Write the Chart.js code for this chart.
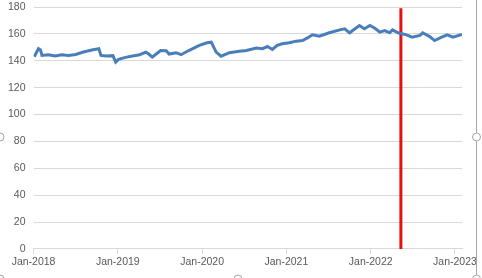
<!DOCTYPE html>
<html lang="en">
<head>
  <meta charset="UTF-8">
  <title>Price series</title>
  <script src="https://cdn.jsdelivr.net/npm/chart.js"></script>
  <style>
    html, body { margin: 0; padding: 0; background: #fff; overflow: hidden; }
    canvas { display: block; }
  </style>
</head>
<body>
  <canvas id="chart" width="482" height="278"></canvas>
  <script>
    // months since Jan-2018 and the series value
    const months = [0.1, 0.4, 0.7, 1.0, 1.2, 2.1, 3.1, 4.0, 5.0, 6.0, 7.1, 8.3, 9.3, 9.6, 10.4, 11.3, 11.7,
      12.1, 13.1, 14.1, 15.1, 16.0, 16.4, 16.9, 17.6, 18.1, 18.9, 19.3, 20.3, 21.0, 22.1, 23.6,
      24.7, 25.3, 26.0, 26.7, 27.9, 29.3, 30.3, 31.7, 32.6, 33.3, 34.0, 34.7, 35.4,
      36.4, 37.4, 38.3, 39.0, 39.7, 40.7, 42.1, 43.6, 44.3, 45.0, 46.4, 47.1, 47.9,
      48.6, 49.3, 50.0, 50.7, 51.1, 51.9, 53.1, 53.9, 55.0, 55.4, 56.4, 57.1, 58.1, 58.9, 59.7, 61.0];
    const values = [143, 146, 149, 148, 144, 144.5, 143.5, 144.5, 144, 144.7, 146.5, 148, 149, 144, 143.5, 143.8, 139,
      141, 142.5, 143.5, 144.5, 146.4, 145, 142.7, 145.6, 147.6, 147.5, 145, 146, 144.5, 147.6, 151.4,
      153.4, 153.8, 146.4, 143.4, 146, 147.1, 147.6, 149.4, 149, 150.6, 148.4, 151.4, 152.6,
      153.4, 154.6, 155, 157, 159.3, 158.3, 160.8, 163, 163.8, 160.8, 166.2, 163.8, 166.2,
      164.2, 161.3, 162.5, 160.8, 163, 160.8, 159.3, 157.5, 158.8, 160.8, 158, 155, 157.5, 159.3, 157.5, 159.5];
    // vertical marker (May 2022)
    const markerMonth = [52.3, 52.3];
    const markerValues = [0, 179];
    const yearTicks = ['Jan-2018', 'Jan-2019', 'Jan-2020', 'Jan-2021', 'Jan-2022', 'Jan-2023'];

    const fontFamily = "'Liberation Sans', Arial, sans-serif";

    // Excel selection frame bits around the chart
    const framePlugin = {
      id: 'frame',
      afterDraw(chart) {
        const c = chart.ctx;
        c.save();
        c.strokeStyle = '#a6a6a6';
        c.lineWidth = 1;
        c.beginPath();
        c.moveTo(476.5, 0);
        c.lineTo(476.5, 278);
        c.stroke();
        [[0, 137], [476.5, 137], [0, 279], [238, 279], [476.5, 279]].forEach(([x, y]) => {
          c.beginPath();
          c.arc(x, y, 4, 0, Math.PI * 2);
          c.fillStyle = '#fff';
          c.fill();
          c.stroke();
        });
        c.restore();
      }
    };

    new Chart(document.getElementById('chart'), {
      type: 'line',
      data: {
        datasets: [
          {
            data: months.map((m, i) => ({ x: m, y: values[i] })),
            borderColor: '#4a7ebb',
            borderWidth: 3,
            pointRadius: 0,
            tension: 0
          },
          {
            data: markerMonth.map((m, i) => ({ x: m, y: markerValues[i] })),
            borderColor: '#e8100f',
            borderWidth: 3,
            pointRadius: 0
          }
        ]
      },
      options: {
        responsive: false,
        animation: false,
        maintainAspectRatio: false,
        layout: { padding: { left: 0, right: 20, top: 7, bottom: 7.5 } },
        plugins: { legend: { display: false }, tooltip: { enabled: false } },
        scales: {
          x: {
            type: 'linear',
            min: 0,
            max: 61,
            afterBuildTicks(axis) {
              axis.ticks = axis.ticks.filter(t => t.value % 12 === 0);
            },
            ticks: {
              stepSize: 12,
              includeBounds: false,
              autoSkip: false,
              maxRotation: 0,
              color: '#595959',
              font: { family: fontFamily, size: 10.5 },
              padding: 2,
              callback: v => yearTicks[v / 12]
            },
            grid: { drawOnChartArea: false, drawTicks: true, tickLength: 5, color: '#d9d9d9' },
            border: { color: '#d9d9d9' }
          },
          y: {
            min: 0,
            max: 180,
            afterFit(axis) {
              axis.paddingTop = 0;
              axis.paddingBottom = 0;
            },
            ticks: {
              stepSize: 20,
              color: '#595959',
              font: { family: fontFamily, size: 10.5 },
              padding: 8
            },
            grid: { color: '#d9d9d9', drawTicks: false },
            border: { display: false }
          }
        }
      },
      plugins: [framePlugin]
    });
  </script>
</body>
</html>
